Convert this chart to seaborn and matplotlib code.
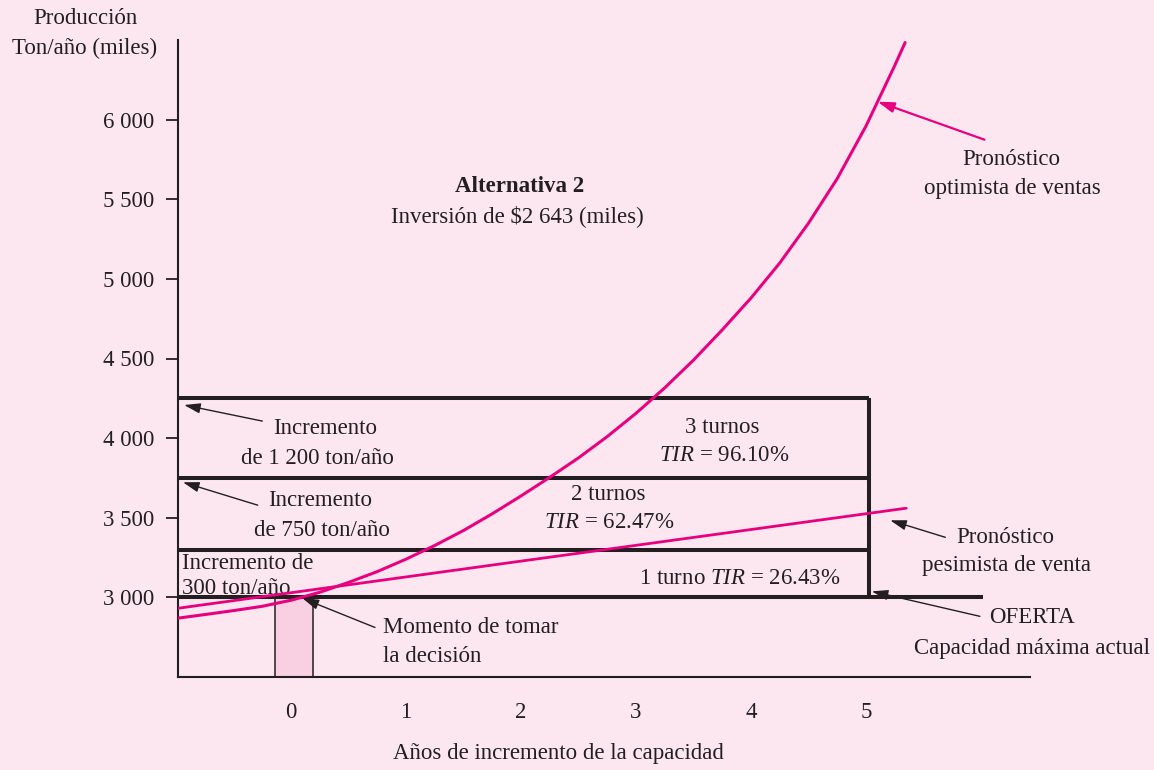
import matplotlib
matplotlib.use("Agg")
import matplotlib.pyplot as plt
import pandas as pd
import seaborn as sns

# --- data -----------------------------------------------------------------
years_opt = [-1.0, -0.75, -0.5, -0.25, 0.0, 0.25, 0.5, 0.75, 1.0, 1.25, 1.5,
             1.75, 2.0, 2.25, 2.5, 2.75, 3.0, 3.25, 3.5, 3.75, 4.0, 4.25,
             4.5, 4.75, 5.0, 5.25, 5.34]
prod_opt = [2868, 2892, 2917, 2944, 2982, 3032, 3094, 3162, 3240, 3326, 3420,
            3525, 3637, 3754, 3876, 4010, 4156, 4316, 4490, 4680, 4880, 5100,
            5350, 5630, 5960, 6340, 6484]

years_pes = [-1.0, 5.35]
prod_pes = [2930, 3560]

oferta = 3000
capacity_levels = [3300, 3750, 4250]
increments = [300, 750, 1200]
shift_names = ["1 turno", "2 turnos", "3 turnos"]
tir_values = [26.43, 62.47, 96.10]
plan_end_year = 5.03
decision_year = 0.025
decision_width = 0.33

year_ticks = [0, 1, 2, 3, 4, 5]
prod_ticks = [3000, 3500, 4000, 4500, 5000, 5500, 6000]
prod_tick_labels = ["3 000", "3 500", "4 000", "4 500", "5 000", "5 500", "6 000"]

# --- style ----------------------------------------------------------------
BG = "#fce7f1"
MAGENTA = "#e6007e"
INK = "#231f20"
BAR = "#f8d0e2"

sns.set_theme(style="white")
plt.rcParams["font.family"] = ["Liberation Serif", "DejaVu Serif"]
plt.rcParams["mathtext.fontset"] = "custom"
plt.rcParams["mathtext.rm"] = "Liberation Serif"
plt.rcParams["mathtext.it"] = "Liberation Serif:italic"
plt.rcParams["text.color"] = INK

FS = 16.5

fig = plt.figure(figsize=(11.54, 7.70), dpi=100, facecolor=BG)
ax = fig.add_axes([178 / 1154, 93 / 770, 852 / 1154, 637 / 770], facecolor=BG)

# decision window
ax.bar([decision_year], [oferta - 2500], bottom=2500, width=decision_width,
       color=BAR, edgecolor=INK, linewidth=1.1, zorder=2)

# capacity box
ax.hlines(oferta, -1.02, 6.02, color=INK, lw=2.9, zorder=3)
ax.hlines(capacity_levels, -1.02, plan_end_year, color=INK, lw=2.9, zorder=3)
ax.vlines(plan_end_year, oferta, capacity_levels[-1], color=INK, lw=2.9, zorder=3)

# forecasts
df_opt = pd.DataFrame({"año": years_opt, "producción": prod_opt})
df_pes = pd.DataFrame({"año": years_pes, "producción": prod_pes})
sns.lineplot(data=df_opt, x="año", y="producción", color=MAGENTA, lw=2.2,
             ax=ax, zorder=4, sort=False, solid_joinstyle="round")
sns.lineplot(data=df_pes, x="año", y="producción", color=MAGENTA, lw=2.0,
             ax=ax, zorder=4, sort=False)

ax.set_xlim(-0.983, 6.426)
ax.set_ylim(2500, 6500)
ax.set_xticks(year_ticks)
ax.set_xticklabels([str(y) for y in year_ticks])
ax.set_yticks(prod_ticks)
ax.set_yticklabels(prod_tick_labels)
ax.set_xlabel("")
ax.set_ylabel("")
ax.tick_params(axis="x", length=0, pad=18, labelsize=FS, colors=INK)
ax.tick_params(axis="y", length=9, width=1.3, pad=8, labelsize=FS,
               colors=INK, direction="out", left=True)
for side in ["top", "right"]:
    ax.spines[side].set_visible(False)
for side in ["left", "bottom"]:
    ax.spines[side].set_color(INK)
    ax.spines[side].set_linewidth(1.5)


def label(x, y, s, ha="center", **kw):
    ax.text(x, y, s, ha=ha, va="center", fontsize=FS, color=INK, **kw)


def arrow(head, tail, color=INK, lw=1.0):
    ax.annotate("", xy=head, xytext=tail,
                arrowprops=dict(arrowstyle="-|>,head_length=0.7,head_width=0.22",
                                color=color, lw=lw, shrinkA=0, shrinkB=0,
                                mutation_scale=14), zorder=6)


# headline
label(1.99, 5579, "Alternativa 2", fontweight="bold")
label(1.97, 5396, "Inversión de $2 643 (miles)")

# capacity increments
label(0.30, 4063, "Incremento")
label(0.23, 3874, f"de {increments[2] // 1000} {increments[2] % 1000:03d} ton/año")
arrow((-0.93, 4208), (-0.25, 4107))
label(0.25, 3610, "Incremento")
label(0.27, 3421, f"de {increments[1]} ton/año")
arrow((-0.94, 3723), (-0.29, 3579))
label(-0.945, 3215, "Incremento de", ha="left")
label(-0.945, 3058, f"{increments[0]} ton/año", ha="left")

# shifts and TIR
label(3.75, 4069, shift_names[2])
label(3.77, 3893, r"$\mathit{TIR}$" + f" = {tir_values[2]:.2f}%")
label(2.76, 3648, shift_names[1])
label(2.77, 3472, r"$\mathit{TIR}$" + f" = {tir_values[1]:.2f}%")
label(3.90, 3119, shift_names[0] + r" $\mathit{TIR}$" + f" = {tir_values[0]:.2f}%")

# decision moment
label(0.80, 2811, "Momento de tomar", ha="left")
label(0.80, 2629, "la decisión", ha="left")
arrow((0.10, 2994), (0.73, 2811))

# forecast labels
label(6.26, 5748, "Pronóstico")
label(6.27, 5566, "optimista de ventas")
arrow((5.10, 6113), (6.03, 5874), color=MAGENTA, lw=1.6)
label(6.21, 3377, "Pronóstico")
label(6.22, 3201, "pesimista de venta")
arrow((5.21, 3484), (5.69, 3377))

# supply
label(6.44, 2874, "OFERTA")
label(6.44, 2679, "Capacidad máxima actual")
arrow((5.05, 3038), (5.99, 2881))

# axis titles
fig.text(85 / 1154, 1 - 19 / 770, "Producción", ha="center", va="center",
         fontsize=FS, color=INK)
fig.text(85 / 1154, 1 - 48 / 770, "Ton/año (miles)", ha="center", va="center",
         fontsize=FS, color=INK)
fig.text(558 / 1154, 1 - 753 / 770, "Años de incremento de la capacidad",
         ha="center", va="center", fontsize=FS, color=INK)

fig.savefig("out.png", dpi=100, facecolor=BG)
